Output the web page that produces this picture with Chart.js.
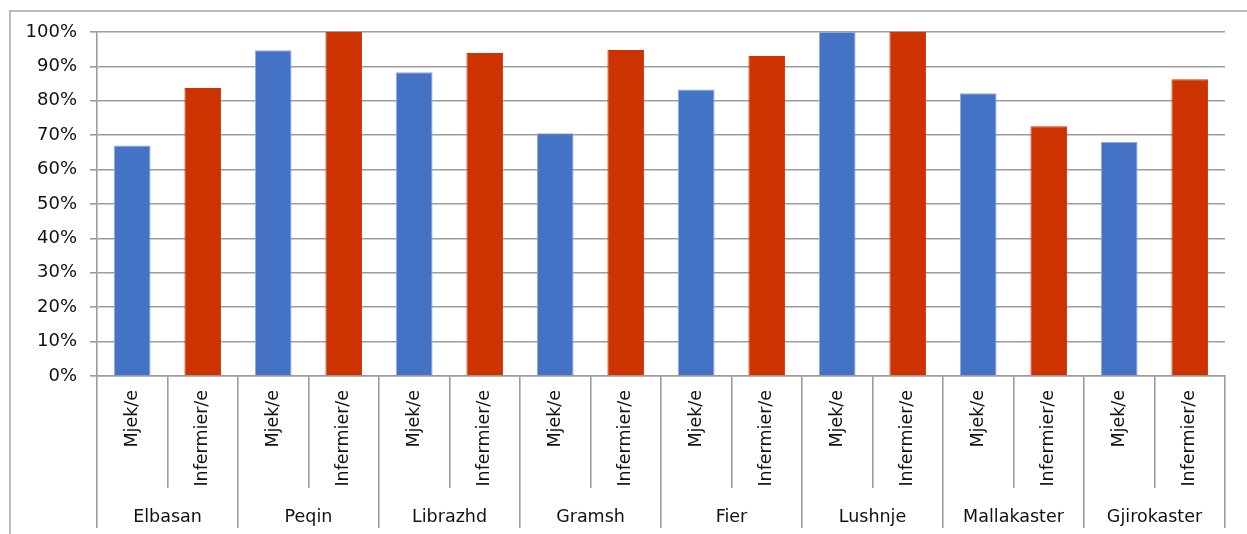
<!DOCTYPE html>
<html>
<head>
<meta charset="utf-8">
<script src="https://cdn.jsdelivr.net/npm/chart.js@4"></script>
<style>
  html, body { margin: 0; padding: 0; background: #fff; }
  #wrap { position: relative; width: 1247px; height: 534px; overflow: hidden; }
  #frame { position: absolute; left: 9px; top: 10px; width: 1300px; height: 600px;
           border-left: 2px solid #bcbcbc; border-top: 2px solid #bcbcbc; }
  canvas { position: absolute; left: 0; top: 0; }
</style>
</head>
<body>
<div id="wrap">
  <div id="frame"></div>
  <canvas id="c" width="1247" height="534"></canvas>
</div>
<script>
const districts = ['Elbasan', 'Peqin', 'Librazhd', 'Gramsh', 'Fier', 'Lushnje', 'Mallakaster', 'Gjirokaster'];
const roles = ['Mjek/e', 'Infermier/e'];
const mjekValues = [67.0, 94.7, 88.3, 70.6, 83.3, 100, 82.2, 68.1];
const infermierValues = [83.7, 100, 93.9, 94.8, 93.0, 100, 72.6, 86.3];
const yTicks = [0, 10, 20, 30, 40, 50, 60, 70, 80, 90, 100];

const BLUE = '#4472C4', RED = '#CC3300';
const labels = [], values = [], colors = [], borders = [];
districts.forEach((d, i) => {
  labels.push(roles[0]); values.push(mjekValues[i]); colors.push(BLUE); borders.push('#8FAADC');
  labels.push(roles[1]); values.push(infermierValues[i]); colors.push(RED); borders.push(RED);
});

Chart.defaults.font.family = "'DejaVu Sans', sans-serif";
Chart.defaults.font.size = 17;
Chart.defaults.color = '#111';

const GRID = '#9c9c9c';

new Chart(document.getElementById('c'), {
  type: 'bar',
  data: {
    labels: labels,
    datasets: [{
      data: values,
      backgroundColor: colors,
      borderColor: borders,
      borderWidth: 1,
      categoryPercentage: 1,
      barPercentage: 0.52
    }]
  },
  options: {
    responsive: false,
    animation: false,
    layout: { padding: { left: 0, right: 22, top: 32, bottom: 6 } },
    plugins: { legend: { display: false }, tooltip: { enabled: false } },
    scales: {
      y: {
        min: 0, max: 100,
        afterBuildTicks: s => { s.ticks = yTicks.map(v => ({ value: v })); },
        afterFit: s => { s.width = 97; },
        ticks: { callback: v => v + '%', padding: 13, font: { size: 18 } },
        grid: { color: GRID, lineWidth: 1.6, tickLength: 7 },
        border: { color: GRID, width: 1.6 }
      },
      x: {
        type: 'category',
        position: 'bottom',
        weight: 0,
        afterFit: s => { s.height = 112; },
        ticks: { minRotation: 90, maxRotation: 90, autoSkip: false, padding: -98, font: { size: 17.5 } },
        grid: { offset: true, drawOnChartArea: false, tickLength: 112, color: GRID, lineWidth: 1.6 },
        border: { color: GRID, width: 1.6 }
      },
      x2: {
        type: 'category',
        position: 'bottom',
        weight: 1,
        labels: districts,
        offset: true,
        afterFit: s => { s.height = 40; },
        ticks: { maxRotation: 0, minRotation: 0, autoSkip: false, padding: -21, font: { size: 17.5 } },
        grid: { offset: true, drawOnChartArea: false, tickLength: 40, color: GRID, lineWidth: 1.6 },
        border: { display: false }
      }
    }
  }
});
</script>
</body>
</html>
